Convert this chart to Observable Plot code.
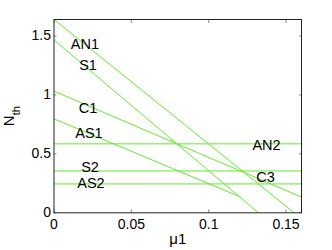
<!DOCTYPE html>
<html><head><meta charset="utf-8">
<script src="https://cdn.jsdelivr.net/npm/d3@7"></script>
<script src="https://cdn.jsdelivr.net/npm/@observablehq/plot@0.6"></script>
<style>body{margin:0;background:#fff}</style>
</head><body><div id="chart"></div>
<script>
// threshold lines: start (x1,y1) and end (x2,y2)
const lineNames = ["AN1", "S1", "C1", "AS1", "AN2", "S2", "AS2"];
const lineX1 = [0, 0, 0, 0, 0, 0, 0];
const lineY1 = [1.64, 1.466, 1.032, 0.797, 0.585, 0.355, 0.245];
const lineX2 = [0.1553, 0.1322, 0.16, 0.1206, 0.16, 0.16, 0.16];
const lineY2 = [0, 0, 0.133, 0.134, 0.585, 0.355, 0.245];

const labelNames = ["AN1", "S1", "C1", "AS1", "S2", "AS2", "AN2", "C3"];
const labelX = [0.020, 0.022, 0.022, 0.0226, 0.0233, 0.0239, 0.1374, 0.1367];
const labelY = [1.43, 1.25, 0.885, 0.674, 0.384, 0.248, 0.575, 0.299];

const xTicks = [0, 0.05, 0.1, 0.15];
const yTicks = [0, 0.5, 1, 1.5];
const xLabel = "μ1";
const yLabel = "N";
const yLabelSub = "th";

const lines = lineNames.map((n, i) => ({name: n, x1: lineX1[i], y1: lineY1[i], x2: lineX2[i], y2: lineY2[i]}));
const labels = labelNames.map((n, i) => ({name: n, x: labelX[i], y: labelY[i]}));

const green = "#62e82a";
const tickColor = "#888";
const fmt = d => String(d);

const chart = Plot.plot({
  width: 332,
  height: 250,
  marginLeft: 53.5,
  marginRight: 31,
  marginTop: 19,
  marginBottom: 37.7,
  style: {fontFamily: "'Liberation Sans', Arial, sans-serif", fontSize: "14px", background: "#fff", color: "#000"},
  x: {domain: [0, 0.16]},
  y: {domain: [0, 1.64]},
  marks: [
    Plot.link(lines, {x1: "x1", y1: "y1", x2: "x2", y2: "y2", stroke: green, strokeWidth: 1}),
    Plot.text(labels, {x: "x", y: "y", text: "name", fontSize: 14.5, fill: "#000"}),
    Plot.axisX(xTicks, {anchor: "bottom", tickSize: 0, tickPadding: 6, tickFormat: fmt, label: xLabel, labelAnchor: "center", labelOffset: 31, fontSize: 14}),
    Plot.axisX(xTicks, {anchor: "bottom", tickSize: -3, tickFormat: () => "", label: null, stroke: tickColor}),
    Plot.axisX(xTicks, {anchor: "top", tickSize: -3, tickFormat: () => "", label: null, stroke: tickColor}),
    Plot.axisY(yTicks, {anchor: "left", tickSize: 0, tickPadding: 3, tickFormat: fmt, label: yLabel, labelAnchor: "center", labelOffset: 51, labelArrow: "none", fontSize: 14}),
    Plot.axisY(yTicks, {anchor: "left", tickSize: -3, tickFormat: () => "", label: null, stroke: tickColor}),
    Plot.axisY(yTicks, {anchor: "right", tickSize: -3, tickFormat: () => "", label: null, stroke: tickColor}),
    Plot.frame({stroke: "#222"})
  ]
});
document.getElementById("chart").appendChild(chart);

// add subscript to y label
const yl = chart.querySelector('g[aria-label="y-axis label"] text');
if (yl) {
  yl.textContent = yLabel;
  const ts = document.createElementNS("http://www.w3.org/2000/svg", "tspan");
  ts.setAttribute("baseline-shift", "sub");
  ts.setAttribute("font-size", "11");
  ts.textContent = yLabelSub;
  yl.appendChild(ts);
  yl.setAttribute("font-size", "15");
}
const xl = chart.querySelector('g[aria-label="x-axis label"] text');
if (xl) { xl.textContent = xLabel; xl.setAttribute("font-size", "15"); }
</script>
</body></html>
